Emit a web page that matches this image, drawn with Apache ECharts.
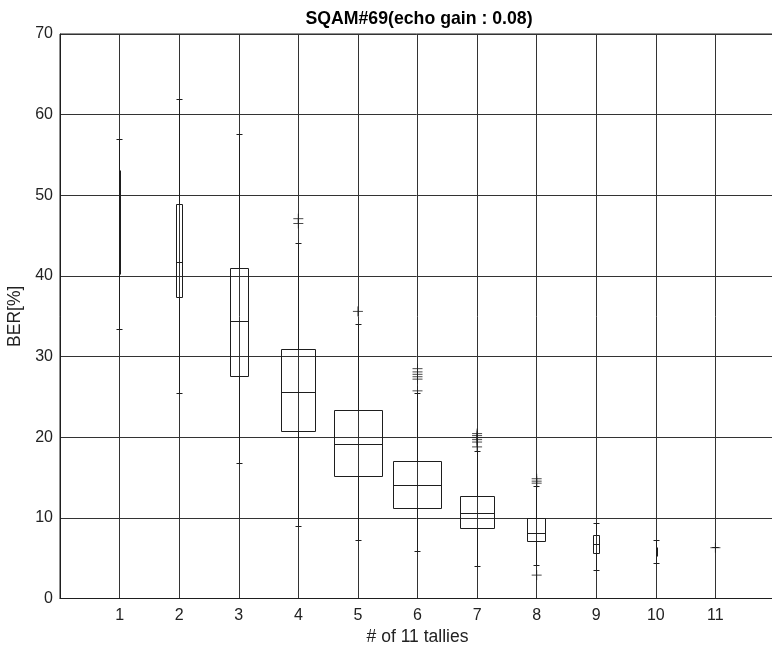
<!DOCTYPE html>
<html>
<head>
<meta charset="utf-8">
<script src="https://cdn.jsdelivr.net/npm/echarts@6/dist/echarts.min.js"></script>
<style>
  html, body { margin: 0; padding: 0; background: #fff; }
  #main { width: 772px; height: 650px; }
</style>
</head>
<body>
<div id="main"></div>
<script>
// one box per tally count (x = 1..11)
var categories = [1, 2, 3, 4, 5, 6, 7, 8, 9, 10, 11];
var lowerWhisker = [33.4, 25.4, 16.75, 9.0, 7.2, 5.9, 4.06, 4.1, 3.45, 4.4, 6.3];
var q1 = [40.2, 37.4, 27.6, 20.8, 15.2, 11.2, 8.7, 7.16, 5.6, 5.2, 6.3];
var median = [45.0, 41.7, 34.4, 25.6, 19.1, 14.0, 10.55, 8.1, 6.7, 5.8, 6.3];
var q3 = [53.1, 48.9, 40.9, 30.9, 23.3, 17.0, 12.7, 10.0, 7.8, 6.4, 6.3];
var upperWhisker = [56.9, 61.9, 57.6, 44.0, 34.05, 25.4, 18.3, 13.9, 9.3, 7.2, 6.3];
// box width in x units (variable width boxplot)
var boxWidths = [0.025, 0.1, 0.29, 0.58, 0.8, 0.8, 0.58, 0.29, 0.1, 0.025, 0];
// outliers [x, value]
var outliers = [
  [4, 47.1], [4, 46.5],
  [5, 35.6],
  [6, 28.5], [6, 28.1], [6, 27.8], [6, 27.5], [6, 27.2], [6, 25.75],
  [7, 20.45], [7, 20.2], [7, 19.95], [7, 19.7], [7, 19.4], [7, 18.8],
  [8, 14.85], [8, 14.55], [8, 14.3], [8, 2.9],
  [11, 6.3]
];
var yTicks = [0, 10, 20, 30, 40, 50, 60, 70];

var ink = '#1e1e1e';
var fontFamily = '"Liberation Sans", Arial, Helvetica, sans-serif';

var boxData = [];
for (var i = 0; i < categories.length; i++) {
  boxData.push([categories[i], lowerWhisker[i], q1[i], median[i], q3[i], upperWhisker[i], boxWidths[i]]);
}

// snap to the same half pixel the axis split lines use
function crisp(v) {
  var d = Math.round(v * 2);
  return d % 2 ? d / 2 : (d + 1) / 2;
}

function renderBox(params, api) {
  var x = api.value(0);
  var cx = crisp(api.coord([x, 0])[0]);
  var yMin = crisp(api.coord([x, api.value(1)])[1]);
  var yQ1 = crisp(api.coord([x, api.value(2)])[1]);
  var yMed = crisp(api.coord([x, api.value(3)])[1]);
  var yQ3 = crisp(api.coord([x, api.value(4)])[1]);
  var yMax = crisp(api.coord([x, api.value(5)])[1]);
  var w = api.size([api.value(6), 0])[0];
  var cap = 3; // half width of whisker caps, px
  var style = { stroke: ink, lineWidth: 1, fill: null };
  var children = [
    { type: 'line', shape: { x1: cx, y1: yQ3, x2: cx, y2: yMax }, style: style },
    { type: 'line', shape: { x1: cx, y1: yQ1, x2: cx, y2: yMin }, style: style },
    { type: 'line', shape: { x1: cx - cap, y1: yMax, x2: cx + cap, y2: yMax }, style: style },
    { type: 'line', shape: { x1: cx - cap, y1: yMin, x2: cx + cap, y2: yMin }, style: style }
  ];
  if (w >= 3) {
    var half = Math.round(w / 2);
    children.push({ type: 'rect', shape: { x: cx - half, y: yQ3, width: half * 2, height: yQ1 - yQ3 }, style: style });
    children.push({ type: 'line', shape: { x1: cx - half, y1: yMed, x2: cx + half, y2: yMed }, style: style });
  } else if (w > 0) {
    // very narrow box collapses into a thick stroke
    children.push({ type: 'line', shape: { x1: cx + 0.5, y1: yQ3, x2: cx + 0.5, y2: yQ1 }, style: { stroke: ink, lineWidth: 2 } });
  }
  return { type: 'group', children: children };
}

var chart = echarts.init(document.getElementById('main'));
chart.setOption({
  animation: false,
  backgroundColor: '#fff',
  title: {
    text: 'SQAM#69(echo gain : 0.08)',
    left: 414,
    textAlign: 'center',
    top: 5,
    textStyle: { fontFamily: fontFamily, fontSize: 17.7, fontWeight: 'bold', color: '#000' }
  },
  grid: {
    left: 60, top: 34, width: 715, height: 564.5,
    outerBoundsMode: 'none',
    containLabel: false,
    show: true, borderColor: ink, borderWidth: 1
  },
  xAxis: {
    type: 'value',
    min: 0, max: 12, interval: 1,
    name: '# of 11 tallies',
    nameLocation: 'middle',
    nameGap: 28,
    nameTextStyle: { fontFamily: fontFamily, fontSize: 17.5, color: '#222' },
    axisLine: { show: true, lineStyle: { color: ink } },
    axisTick: { show: false },
    axisLabel: {
      margin: 9,
      fontFamily: fontFamily, fontSize: 16, color: '#222',
      formatter: function (v) { return categories.indexOf(v) >= 0 ? String(v) : ''; }
    },
    splitLine: { show: true, lineStyle: { color: '#333', width: 1 } }
  },
  yAxis: {
    type: 'value',
    min: yTicks[0], max: yTicks[yTicks.length - 1], interval: 10,
    name: 'BER[%]',
    nameLocation: 'middle',
    nameGap: 28,
    nameTextStyle: { fontFamily: fontFamily, fontSize: 17.5, color: '#222' },
    axisLine: { show: true, lineStyle: { color: ink } },
    axisTick: { show: false },
    axisLabel: { margin: 7, fontFamily: fontFamily, fontSize: 16, color: '#222' },
    splitLine: { show: true, lineStyle: { color: '#333', width: 1 } }
  },
  series: [
    {
      type: 'custom',
      renderItem: renderBox,
      data: boxData,
      encode: { x: 0, y: [1, 2, 3, 4, 5] },
      z: 5
    },
    {
      type: 'scatter',
      data: outliers,
      symbol: 'path://M0,5L10,5M5,0L5,10',
      symbolSize: 10,
      itemStyle: { color: 'none', borderColor: ink, borderWidth: 1 },
      z: 6
    }
  ]
});
</script>
</body>
</html>
